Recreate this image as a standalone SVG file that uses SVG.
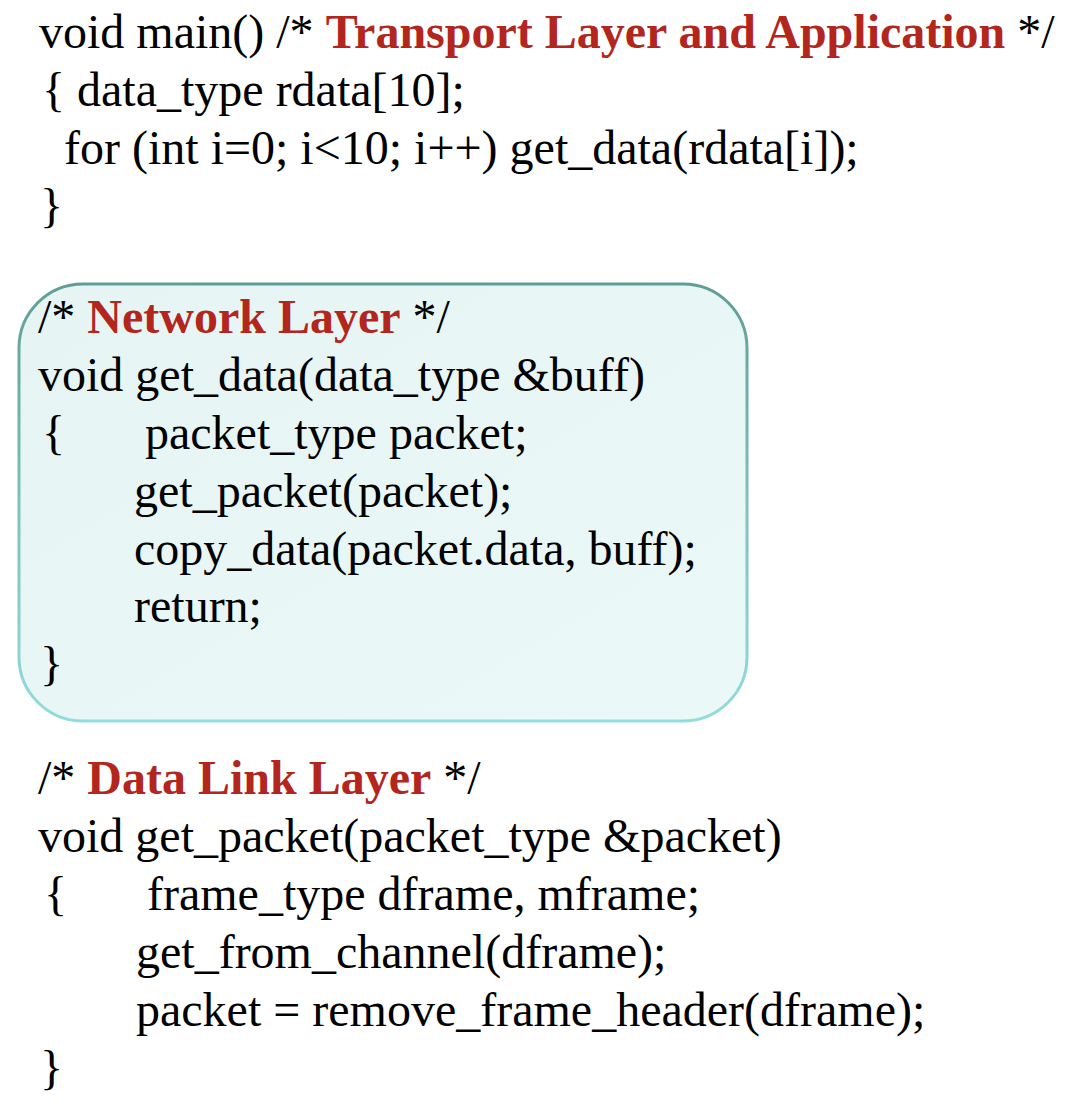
<svg xmlns="http://www.w3.org/2000/svg" width="1072" height="1104" viewBox="0 0 1072 1104">
<defs>
<linearGradient id="edge" x1="0" y1="0" x2="0" y2="1">
<stop offset="0" stop-color="#5f9e95"/>
<stop offset="0.5" stop-color="#7cc2bd"/>
<stop offset="1" stop-color="#92dcdc"/>
</linearGradient>
<linearGradient id="fillg" x1="0" y1="0" x2="1" y2="1">
<stop offset="0" stop-color="#e6f4f3"/>
<stop offset="1" stop-color="#ebf8f8"/>
</linearGradient>
</defs>
<style>
text{font-family:'Liberation Serif','Times New Roman',serif;font-size:48px;fill:#000}
.h{font-weight:bold;fill:#b2261e}
</style>
<rect width="1072" height="1104" fill="#fff"/>
<g id="transport">
<text x="39" y="48">void main() /* <tspan class="h">Transport Layer and Application</tspan> */</text>
<text x="42" y="106">{ data_type rdata[10];</text>
<text x="64" y="164">for (int i=0; i&lt;10; i++) get_data(rdata[i]);</text>
<text x="40" y="222">}</text>
</g>
<g id="network">
<rect x="19" y="284" width="728" height="437" rx="64" ry="64" fill="url(#fillg)" stroke="url(#edge)" stroke-width="3"/>
<text x="38" y="333">/* <tspan class="h">Network Layer</tspan> */</text>
<text x="38" y="391">void get_data(data_type &amp;buff)</text>
<text x="42" y="449">{</text>
<text x="145" y="449">packet_type packet;</text>
<text x="134" y="507">get_packet(packet);</text>
<text x="134" y="565">copy_data(packet.data, buff);</text>
<text x="134" y="622">return;</text>
<text x="40" y="680">}</text>
</g>
<g id="datalink">
<text x="38" y="794">/* <tspan class="h">Data Link Layer</tspan> */</text>
<text x="38" y="852">void get_packet(packet_type &amp;packet)</text>
<text x="44" y="910">{</text>
<text x="147" y="910">frame_type dframe, mframe;</text>
<text x="136" y="968">get_from_channel(dframe);</text>
<text x="136" y="1026">packet = remove_frame_header(dframe);</text>
<text x="40" y="1084">}</text>
</g>
<g id="connectors"/>
</svg>
